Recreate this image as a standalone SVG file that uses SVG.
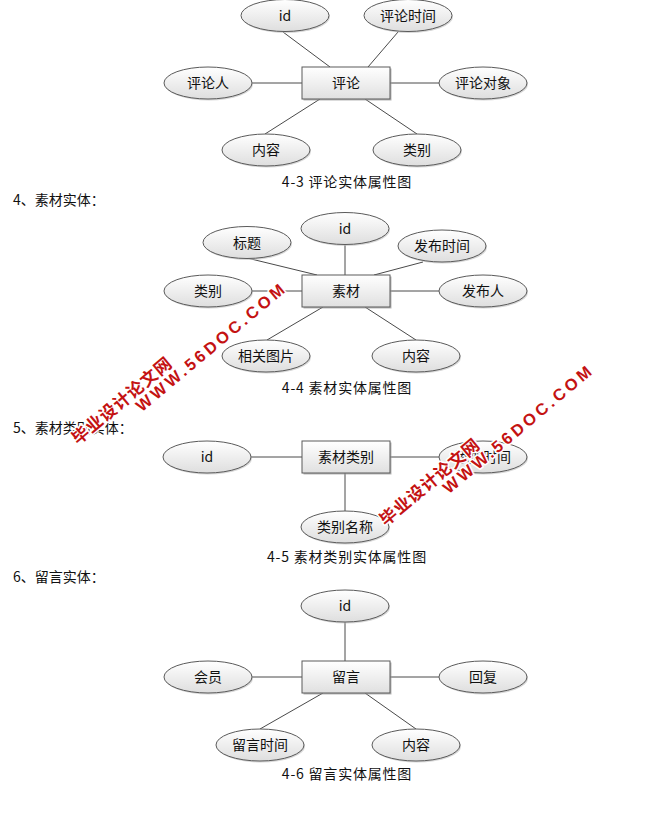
<svg xmlns="http://www.w3.org/2000/svg" width="654" height="822" viewBox="0 0 654 822">
<defs>
<linearGradient id="gE" x1="0" y1="0" x2="0" y2="1"><stop offset="0" stop-color="#ffffff"/><stop offset="1" stop-color="#dedede"/></linearGradient>
<linearGradient id="gR" x1="0" y1="0" x2="0" y2="1"><stop offset="0" stop-color="#ffffff"/><stop offset="1" stop-color="#e0e0e0"/></linearGradient>
<style>
.e{fill:url(#gE);stroke:#5a5a5a;stroke-width:1}
.es{fill:#bdbdbd;opacity:.6}
.r{fill:url(#gR);stroke:#5a5a5a;stroke-width:1}
.rs{fill:#9a9a9a;opacity:.7}
.t{font-family:"Noto Sans CJK SC","Liberation Sans",sans-serif;font-size:14px;fill:#111;text-anchor:middle}
.h{font-family:"Noto Sans CJK SC","Liberation Sans",sans-serif;font-size:14px;fill:#111}
.c{font-family:"Noto Sans CJK SC","Liberation Sans",sans-serif;font-size:14px;fill:#111;text-anchor:middle;letter-spacing:0.8px}
.ln line{stroke:#4a4a4a;stroke-width:1}
.wm{font-family:"Liberation Sans","Noto Sans CJK SC",sans-serif;font-weight:bold;fill:#c41212;stroke:#ffffff;stroke-width:3;paint-order:stroke;stroke-linejoin:round}
</style>
</defs>
<rect width="654" height="822" fill="#ffffff"/>

<!-- connectors -->
<g id="connectors" class="ln">
<line x1="283" y1="32" x2="330" y2="67"/>
<line x1="398" y1="32" x2="368" y2="67"/>
<line x1="252" y1="83" x2="302" y2="83"/>
<line x1="390" y1="83" x2="439" y2="83"/>
<line x1="265" y1="134" x2="320" y2="99"/>
<line x1="417" y1="134" x2="365" y2="99"/>

<line x1="247" y1="258" x2="317" y2="275"/>
<line x1="345" y1="245" x2="345" y2="275"/>
<line x1="423" y1="262" x2="374" y2="275"/>
<line x1="252" y1="291" x2="302" y2="291"/>
<line x1="390" y1="291" x2="439" y2="291"/>
<line x1="267" y1="340" x2="323" y2="307"/>
<line x1="416" y1="340" x2="365" y2="307"/>

<line x1="251" y1="457" x2="302" y2="457"/>
<line x1="390" y1="457" x2="439" y2="457"/>
<line x1="345" y1="473" x2="345" y2="511"/>

<line x1="345" y1="622" x2="345" y2="661"/>
<line x1="252" y1="677" x2="302" y2="677"/>
<line x1="390" y1="677" x2="439" y2="677"/>
<line x1="260" y1="729" x2="323" y2="693"/>
<line x1="416" y1="729" x2="365" y2="693"/>
</g>

<!-- headings / captions -->
<text class="c" x="347" y="187">4-3 评论实体属性图</text>
<text class="h" x="13" y="205">4、素材实体：</text>
<text class="c" x="347" y="393">4-4 素材实体属性图</text>
<text class="h" x="13" y="433">5、素材类别实体：</text>
<text class="c" x="347" y="562">4-5 素材类别实体属性图</text>
<text class="h" x="13" y="582">6、留言实体：</text>
<text class="c" x="347" y="779">4-6 留言实体属性图</text>

<!-- Section 4-3 -->
<g id="n1-id"><ellipse class="es" cx="286" cy="17" rx="44" ry="16"/><ellipse class="e" cx="285" cy="15.5" rx="44" ry="16"/><text class="t" x="285" y="21">id</text></g>
<g id="n1-time"><ellipse class="es" cx="409" cy="17" rx="44" ry="16"/><ellipse class="e" cx="408" cy="15.5" rx="44" ry="16"/><text class="t" x="408" y="21">评论时间</text></g>
<g id="n1-person"><ellipse class="es" cx="209" cy="84.5" rx="44" ry="16"/><ellipse class="e" cx="208" cy="83" rx="44" ry="16"/><text class="t" x="208" y="88">评论人</text></g>
<g id="n1-entity"><rect class="rs" x="303.5" y="68.5" width="88" height="32"/><rect class="r" x="302" y="67" width="88" height="32"/><text class="t" x="346" y="88">评论</text></g>
<g id="n1-target"><ellipse class="es" cx="484" cy="84.5" rx="44" ry="16"/><ellipse class="e" cx="483" cy="83" rx="44" ry="16"/><text class="t" x="483" y="88">评论对象</text></g>
<g id="n1-content"><ellipse class="es" cx="267" cy="151.5" rx="44" ry="16"/><ellipse class="e" cx="266" cy="150" rx="44" ry="16"/><text class="t" x="266" y="155">内容</text></g>
<g id="n1-type"><ellipse class="es" cx="418" cy="151.5" rx="44" ry="16"/><ellipse class="e" cx="417" cy="150" rx="44" ry="16"/><text class="t" x="417" y="155">类别</text></g>

<!-- Section 4-4 -->
<g id="n2-id"><ellipse class="es" cx="346" cy="230" rx="44" ry="16"/><ellipse class="e" cx="345" cy="228.5" rx="44" ry="16"/><text class="t" x="345" y="234">id</text></g>
<g id="n2-title"><ellipse class="es" cx="248" cy="244" rx="44" ry="16"/><ellipse class="e" cx="247" cy="242.5" rx="44" ry="16"/><text class="t" x="247" y="248">标题</text></g>
<g id="n2-time"><ellipse class="es" cx="443" cy="247.5" rx="44" ry="16"/><ellipse class="e" cx="442" cy="246" rx="44" ry="16"/><text class="t" x="442" y="251">发布时间</text></g>
<g id="n2-type"><ellipse class="es" cx="209" cy="292.5" rx="44" ry="16"/><ellipse class="e" cx="208" cy="291" rx="44" ry="16"/><text class="t" x="208" y="296">类别</text></g>
<g id="n2-entity"><rect class="rs" x="303.5" y="276.5" width="88" height="32"/><rect class="r" x="302" y="275" width="88" height="32"/><text class="t" x="346" y="296">素材</text></g>
<g id="n2-publisher"><ellipse class="es" cx="484" cy="292.5" rx="44" ry="16"/><ellipse class="e" cx="483" cy="291" rx="44" ry="16"/><text class="t" x="483" y="296">发布人</text></g>
<g id="n2-image"><ellipse class="es" cx="267" cy="357.5" rx="44" ry="16"/><ellipse class="e" cx="266" cy="356" rx="44" ry="16"/><text class="t" x="266" y="361">相关图片</text></g>
<g id="n2-content"><ellipse class="es" cx="417" cy="357.5" rx="44" ry="16"/><ellipse class="e" cx="416" cy="356" rx="44" ry="16"/><text class="t" x="416" y="361">内容</text></g>

<!-- Section 4-5 -->
<g id="n3-id"><ellipse class="es" cx="208" cy="458.5" rx="44" ry="16"/><ellipse class="e" cx="207" cy="457" rx="44" ry="16"/><text class="t" x="207" y="462">id</text></g>
<g id="n3-entity"><rect class="rs" x="303.5" y="442.5" width="88" height="32"/><rect class="r" x="302" y="441" width="88" height="32"/><text class="t" x="346" y="462">素材类别</text></g>
<g id="n3-time"><ellipse class="es" cx="484" cy="458.5" rx="44" ry="16"/><ellipse class="e" cx="483" cy="457" rx="44" ry="16"/><text class="t" x="483" y="462">添加时间</text></g>
<g id="n3-name"><ellipse class="es" cx="346" cy="528.5" rx="44" ry="16"/><ellipse class="e" cx="345" cy="527" rx="44" ry="16"/><text class="t" x="345" y="532">类别名称</text></g>

<!-- Section 4-6 -->
<g id="n4-id"><ellipse class="es" cx="346" cy="607.5" rx="44" ry="16"/><ellipse class="e" cx="345" cy="606" rx="44" ry="16"/><text class="t" x="345" y="611">id</text></g>
<g id="n4-member"><ellipse class="es" cx="209" cy="678.5" rx="44" ry="16"/><ellipse class="e" cx="208" cy="677" rx="44" ry="16"/><text class="t" x="208" y="682">会员</text></g>
<g id="n4-entity"><rect class="rs" x="303.5" y="662.5" width="88" height="32"/><rect class="r" x="302" y="661" width="88" height="32"/><text class="t" x="346" y="682">留言</text></g>
<g id="n4-reply"><ellipse class="es" cx="484" cy="678.5" rx="44" ry="16"/><ellipse class="e" cx="483" cy="677" rx="44" ry="16"/><text class="t" x="483" y="682">回复</text></g>
<g id="n4-time"><ellipse class="es" cx="261" cy="746.5" rx="44" ry="16"/><ellipse class="e" cx="260" cy="745" rx="44" ry="16"/><text class="t" x="260" y="750">留言时间</text></g>
<g id="n4-content"><ellipse class="es" cx="417" cy="746.5" rx="44" ry="16"/><ellipse class="e" cx="416" cy="745" rx="44" ry="16"/><text class="t" x="416" y="750">内容</text></g>

<!-- watermarks -->
<g id="watermark1" transform="translate(138,408) rotate(-40)">
<text class="wm" x="0" y="6" font-size="16.5" textLength="188" lengthAdjust="spacing">WWW.56DOC.COM</text>
<text class="wm" x="-70" y="-10" font-size="17" textLength="124" lengthAdjust="spacing">毕业设计论文网</text>
</g>
<g id="watermark2" transform="translate(445,490) rotate(-40)">
<text class="wm" x="0" y="6" font-size="16.5" textLength="188" lengthAdjust="spacing">WWW.56DOC.COM</text>
<text class="wm" x="-69" y="-10" font-size="17" textLength="124" lengthAdjust="spacing">毕业设计论文网</text>
</g>
</svg>
